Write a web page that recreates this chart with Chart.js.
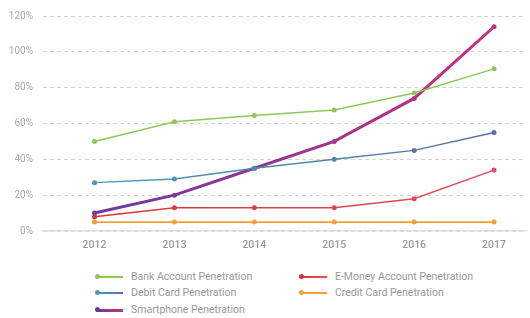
<!DOCTYPE html>
<html>
<head>
<meta charset="utf-8">
<script src="https://cdn.jsdelivr.net/npm/chart.js@4"></script>
<style>
html,body{margin:0;padding:0;background:#fff;width:530px;height:318px;overflow:hidden;font-family:Roboto,"Noto Sans",sans-serif;}
#wrap{position:absolute;left:0;top:0;width:530px;height:258px;}
.leg{position:absolute;font-size:10.5px;color:#999;line-height:12px;white-space:nowrap;}
.mk{position:absolute;height:2px;width:27px;top:5px;left:-35px;}
.mk i{position:absolute;left:-1px;top:-2px;width:5px;height:5px;border-radius:50%;}
</style>
</head>
<body>
<div id="wrap"><canvas id="c" width="530" height="258"></canvas></div>
<div id="legend"></div>
<script>
const years = [2012, 2013, 2014, 2015, 2016, 2017];
const bankAccount = [50, 61, 64.5, 67.5, 77, 90.5];
const debitCard = [27, 29, 35, 40, 45, 55];
const eMoney = [8, 13, 13, 13, 18, 34];
const creditCard = [5, 5, 5, 5, 5, 5];
const smartphone = [10, 20, 35, 50, 74, 114];
const yTicks = [0, 20, 40, 60, 80, 100, 120];

const seriesNames = ["Bank Account Penetration", "E-Money Account Penetration", "Debit Card Penetration", "Credit Card Penetration", "Smartphone Penetration"];

function grad(c1, c2) {
  return function(context) {
    const chart = context.chart;
    const area = chart.chartArea;
    if (!area) return c1;
    const g = chart.ctx.createLinearGradient(area.left + 50, 0, area.right - 30, 0);
    g.addColorStop(0, c1);
    g.addColorStop(1, c2);
    return g;
  };
}
function pts(arr) { return years.map((y, i) => ({x: y, y: arr[i]})); }

const defs = [
  {label: seriesNames[4], data: smartphone, c1: '#6b3aa0', c2: '#c8307a', w: 3, z: 0},
  {label: seriesNames[0], data: bankAccount, c1: '#8cc85a', c2: '#8cc85a', w: 1.5, z: 1},
  {label: seriesNames[2], data: debitCard, c1: '#4a9cb2', c2: '#5a6ea6', w: 1.5, z: 2},
  {label: seriesNames[1], data: eMoney, c1: '#d8323c', c2: '#e0505e', w: 1.5, z: 3},
  {label: seriesNames[3], data: creditCard, c1: '#f0a236', c2: '#f0a236', w: 1.8, z: 4}
];

new Chart(document.getElementById('c'), {
  type: 'line',
  data: {
    datasets: defs.map(d => ({
      label: d.label,
      data: pts(d.data),
      borderColor: grad(d.c1, d.c2),
      backgroundColor: grad(d.c1, d.c2),
      pointBackgroundColor: grad(d.c1, d.c2),
      pointBorderWidth: 0,
      borderWidth: d.w,
      pointRadius: 2.5,
      tension: 0,
      order: -d.z
    }))
  },
  options: {
    responsive: false,
    animation: false,
    layout: {padding: {top: 14, right: 0, left: 0, bottom: 0}},
    plugins: {legend: {display: false}, tooltip: {enabled: false}},
    scales: {
      x: {
        type: 'linear',
        min: 2011.355,
        max: 2017.4,
        afterBuildTicks: s => { s.ticks = years.map(v => ({value: v})); },
        afterFit: s => { s.height = 27; },
        grid: {display: false, drawTicks: false},
        border: {display: true, color: '#dcdfe3', width: 1.5},
        ticks: {color: '#999', padding: 8, font: {family: 'Roboto', size: 10.5, weight: '500'}, callback: v => String(v)}
      },
      y: {
        min: 0,
        max: 120,
        afterBuildTicks: s => { s.ticks = yTicks.map(v => ({value: v})); },
        afterFit: s => { s.width = 43; },
        grid: {color: '#d4d4d4', drawTicks: false, lineWidth: 1},
        border: {display: false, dash: [4, 3]},
        ticks: {color: '#aaa', padding: 10, font: {family: 'Roboto', size: 10}, callback: v => v + '%'}
      }
    }
  }
});

const legendItems = [
  {t: seriesNames[0], x: 131, y: 271, c1: '#8cc85a', c2: '#8cc85a', h: 2},
  {t: seriesNames[1], x: 335, y: 271, c1: '#d8323c', c2: '#e0505e', h: 2},
  {t: seriesNames[2], x: 131, y: 287, c1: '#4a9cb2', c2: '#5a6ea6', h: 2},
  {t: seriesNames[3], x: 335, y: 287, c1: '#f0a236', c2: '#f0a236', h: 2},
  {t: seriesNames[4], x: 131, y: 304, c1: '#6b3aa0', c2: '#c8307a', h: 3}
];
const lg = document.getElementById('legend');
legendItems.forEach(it => {
  const d = document.createElement('div');
  d.className = 'leg';
  d.style.left = it.x + 'px';
  d.style.top = it.y + 'px';
  d.innerHTML = '<span class="mk" style="height:' + it.h + 'px;background:linear-gradient(90deg,' + it.c1 + ',' + it.c2 + ')"><i style="background:' + it.c1 + '"></i></span>' + it.t;
  lg.appendChild(d);
});
</script>
</body>
</html>
